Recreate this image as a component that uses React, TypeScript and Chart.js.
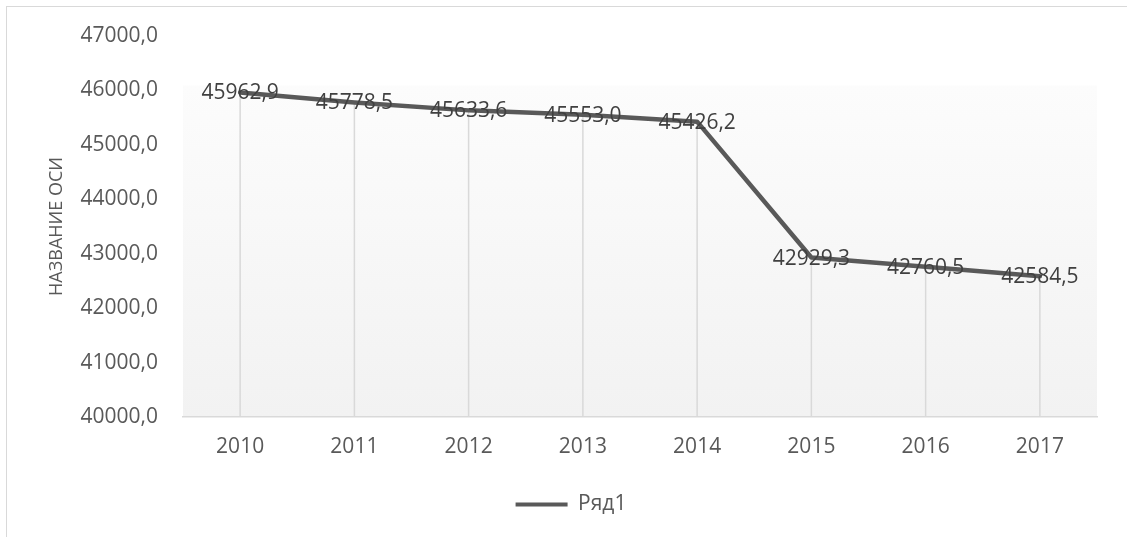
import { useEffect, useRef } from "react";
import { Chart, registerables } from "chart.js";

Chart.register(...registerables);

// Years on the category axis
const years = ["2010", "2011", "2012", "2013", "2014", "2015", "2016", "2017"];
// Series values, one per year
const values = [45962.9, 45778.5, 45633.6, 45553.0, 45426.2, 42929.3, 42760.5, 42584.5];
// Value axis range
const yMin = 40000;
const yMax = 47000;
const yStep = 1000;
const seriesName = "Ряд1";
const yAxisTitle = "НАЗВАНИЕ ОСИ";

const FONT = "'Open Sans', 'Noto Sans', sans-serif";
const LINE = "#595959";
const TEXT = "#595959";
const LABEL = "#404040";
const GRID = "#d9d9d9";

// Decimal comma formatting, one decimal place
const fmt = (v: number) => v.toFixed(1).replace(".", ",");

// Soft vertical gradient behind the plot area
const plotBackground = {
  id: "plotBackground",
  beforeDraw(chart: any) {
    const { ctx, chartArea } = chart;
    if (!chartArea) return;
    const top = chartArea.top + chartArea.height * 0.13;
    const g = ctx.createLinearGradient(0, top, 0, chartArea.bottom);
    g.addColorStop(0, "#fcfcfc");
    g.addColorStop(1, "#f2f2f2");
    ctx.save();
    ctx.fillStyle = g;
    ctx.fillRect(chartArea.left, top, chartArea.right - chartArea.left, chartArea.bottom - top);
    ctx.restore();
  },
};

// Drop lines from each point down to the category axis
const dropLines = {
  id: "dropLines",
  beforeDatasetsDraw(chart: any) {
    const { ctx, chartArea } = chart;
    const meta = chart.getDatasetMeta(0);
    ctx.save();
    ctx.strokeStyle = GRID;
    ctx.lineWidth = 1.5;
    meta.data.forEach((pt: any) => {
      ctx.beginPath();
      ctx.moveTo(pt.x, pt.y);
      ctx.lineTo(pt.x, chartArea.bottom);
      ctx.stroke();
    });
    ctx.restore();
  },
};

// Value labels centred on each point
const valueLabels = {
  id: "valueLabels",
  afterDatasetsDraw(chart: any) {
    const { ctx } = chart;
    const meta = chart.getDatasetMeta(0);
    const data = chart.data.datasets[0].data as number[];
    ctx.save();
    ctx.font = `21px ${FONT}`;
    ctx.fillStyle = LABEL;
    ctx.textAlign = "center";
    ctx.textBaseline = "middle";
    meta.data.forEach((pt: any, i: number) => {
      ctx.fillText(fmt(data[i]), pt.x, pt.y + 1);
    });
    ctx.restore();
  },
};

export default function App() {
  const ref = useRef<HTMLCanvasElement | null>(null);

  useEffect(() => {
    if (!ref.current) return;
    const chart = new Chart(ref.current, {
      type: "line",
      data: {
        labels: years,
        datasets: [
          {
            label: seriesName,
            data: values,
            borderColor: LINE,
            backgroundColor: LINE,
            borderWidth: 4.5,
            borderCapStyle: "round",
            borderJoinStyle: "round",
            pointRadius: 0,
            pointHoverRadius: 0,
            tension: 0,
            fill: false,
            yAxisID: "y",
          },
        ],
      },
      options: {
        responsive: false,
        animation: false,
        layout: { padding: { top: 29, right: 0, left: 8, bottom: 12 } },
        scales: {
          x: {
            offset: true,
            grid: { display: true, color: "transparent", drawTicks: false, offset: true },
            border: { display: true, color: GRID, width: 1.5 },
            ticks: { color: TEXT, font: { family: FONT, size: 21 }, padding: 17, maxRotation: 0 },
            afterFit: (s: any) => {
              s.height = 67;
            },
          },
          y: {
            min: yMin,
            max: yMax,
            grid: { display: true, color: "transparent", drawOnChartArea: false, drawTicks: true, tickLength: 17 },
            border: { display: false },
            ticks: {
              stepSize: yStep,
              color: TEXT,
              font: { family: FONT, size: 21 },
              padding: 8,
              callback: (v: any) => fmt(Number(v)),
            },
            title: {
              display: true,
              text: yAxisTitle,
              color: TEXT,
              font: { family: FONT, size: 18, weight: "normal" },
              padding: { top: 31, bottom: 0 },
            },
            afterFit: (s: any) => {
              s.width = 168;
            },
          },
          // empty right-hand margin axis
          yRight: {
            position: "right",
            display: true,
            grid: { display: false, drawTicks: false },
            border: { display: false },
            ticks: { display: false },
            afterFit: (s: any) => {
              s.width = 30;
            },
          },
        },
        plugins: {
          legend: {
            position: "bottom",
            labels: {
              color: TEXT,
              font: { family: FONT, size: 21 },
              boxWidth: 52,
              boxHeight: 4,
              padding: 10,
              generateLabels: (chart: any) =>
                Chart.defaults.plugins.legend.labels
                  .generateLabels(chart)
                  .map((it: any) => ({ ...it, fillStyle: LINE, strokeStyle: LINE, lineWidth: 0 })),
            },
          },
          tooltip: { enabled: false },
        },
      },
      plugins: [plotBackground, dropLines, valueLabels],
    });
    return () => chart.destroy();
  }, []);

  return (
    <div
      style={{
        position: "absolute",
        left: 6,
        top: 6,
        width: 1120,
        height: 530,
        borderLeft: `1px solid ${GRID}`,
        borderTop: `1px solid ${GRID}`,
        background: "#fff",
      }}
    >
      <canvas ref={ref} width={1120} height={530} style={{ display: "block" }} />
    </div>
  );
}
